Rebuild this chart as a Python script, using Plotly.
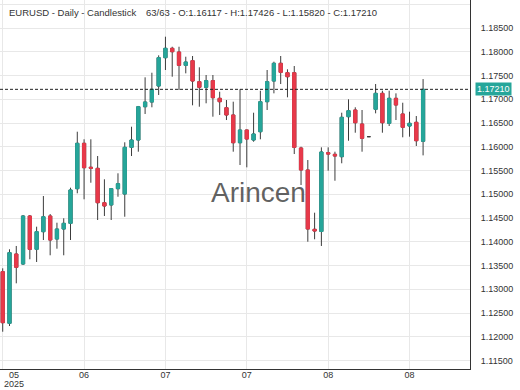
import plotly.graph_objects as go

symbol = "EURUSD"
period = "Daily"
chart_type = "Candlestick"

opens = [1.13371, 1.12284, 1.13743, 1.13533, 1.14543, 1.13842, 1.14213, 1.14543, 1.14059, 1.14269,
         1.14389, 1.15118, 1.16074, 1.15570, 1.15547, 1.14823, 1.14775, 1.15118, 1.15006, 1.15989,
         1.16143, 1.16844, 1.16943, 1.17280, 1.17876, 1.18074, 1.17996, 1.17716, 1.17813, 1.17371,
         1.17253, 1.17392, 1.17021, 1.16823, 1.16670, 1.16086, 1.16354, 1.16143, 1.16318, 1.16950,
         1.17385, 1.17758, 1.17560, 1.17560, 1.15975, 1.15512, 1.14263, 1.14217, 1.15876, 1.15842,
         1.15792, 1.16634, 1.16775, 1.16480, 1.16213, 1.16790, 1.17126, 1.16495, 1.17021, 1.16691,
         1.16438, 1.16516, 1.16117]
highs = [1.13442, 1.13842, 1.13912, 1.14564, 1.14564, 1.14318, 1.14964, 1.14585, 1.14402, 1.14495,
         1.15139, 1.16318, 1.16158, 1.16158, 1.15806, 1.15316, 1.15130, 1.15442, 1.16095, 1.16423,
         1.16860, 1.17463, 1.17560, 1.17926, 1.18318, 1.18107, 1.18107, 1.17897, 1.17912, 1.17674,
         1.17512, 1.17512, 1.17160, 1.16985, 1.16950, 1.17211, 1.16360, 1.16718, 1.17181, 1.17617,
         1.17792, 1.17912, 1.17632, 1.17701, 1.16002, 1.15722, 1.14613, 1.15989, 1.15989, 1.15897,
         1.16718, 1.17000, 1.16832, 1.16775, 1.16213, 1.17322, 1.17181, 1.17181, 1.17126, 1.16928,
         1.16739, 1.16648, 1.17426]
lows = [1.12107, 1.12227, 1.13126, 1.13512, 1.13632, 1.13575, 1.14038, 1.13716, 1.13855, 1.13716,
        1.14038, 1.15021, 1.14895, 1.15244, 1.14459, 1.14543, 1.14459, 1.14949, 1.14528, 1.15806,
        1.15897, 1.16691, 1.16832, 1.17091, 1.17617, 1.17476, 1.17196, 1.17547, 1.16874, 1.16844,
        1.16916, 1.16634, 1.16670, 1.16564, 1.15897, 1.15617, 1.15568, 1.16107, 1.16158, 1.16775,
        1.17126, 1.17322, 1.17042, 1.15848, 1.15196, 1.14002, 1.14053, 1.13912, 1.15497, 1.15286,
        1.15653, 1.16128, 1.16297, 1.15897, 1.16213, 1.16705, 1.16297, 1.16438, 1.16564, 1.16200,
        1.16213, 1.16017, 1.15820]
closes = [1.12297, 1.13771, 1.13463, 1.14543, 1.13842, 1.14213, 1.14528, 1.14038, 1.14269, 1.14389,
          1.15091, 1.16074, 1.15560, 1.15550, 1.14823, 1.14754, 1.15118, 1.15223, 1.15989, 1.16143,
          1.16844, 1.16943, 1.17211, 1.17876, 1.18074, 1.18002, 1.17716, 1.17785, 1.17385, 1.17253,
          1.17392, 1.17034, 1.16950, 1.16670, 1.16086, 1.16354, 1.16164, 1.16270, 1.16950, 1.17371,
          1.17758, 1.17568, 1.17476, 1.15989, 1.15512, 1.14269, 1.14227, 1.15891, 1.15848, 1.15806,
          1.16621, 1.16760, 1.16507, 1.16179, 1.16213, 1.17126, 1.16507, 1.17021, 1.16880, 1.16411,
          1.16495, 1.16128, 1.17210]

tick_idx = [0, 12, 24, 36, 48, 60]
tick_labels = ["05<br>2025", "06", "07", "07", "08", "08"]
watermark = "Arincen"

GREEN = "#26a69a"
RED = "#e8394a"
WICK = "#3c3c3c"
FONT = "Liberation Sans, Arial, sans-serif"

n = len(closes)
xs = list(range(n))

# body-only arrays (derived): flat bars keep only their dark line
b_open, b_high, b_low, b_close = [], [], [], []
for o, h, l, c in zip(opens, highs, lows, closes):
    if o == c == h == l:
        b_open.append(None); b_high.append(None); b_low.append(None); b_close.append(None)
    else:
        b_open.append(o); b_close.append(c)
        b_high.append(max(o, c)); b_low.append(min(o, c))

fig = go.Figure()
fig.add_trace(go.Candlestick(
    x=xs, open=opens, high=highs, low=lows, close=closes,
    increasing=dict(line=dict(color=WICK, width=1), fillcolor=WICK),
    decreasing=dict(line=dict(color=WICK, width=1), fillcolor=WICK),
    hoverinfo="skip", showlegend=False))
fig.add_trace(go.Candlestick(
    x=xs, open=b_open, high=b_high, low=b_low, close=b_close,
    increasing=dict(line=dict(color=GREEN, width=1), fillcolor=GREEN),
    decreasing=dict(line=dict(color=RED, width=1), fillcolor=RED),
    showlegend=False))

last_o, last_h, last_l, last_c = opens[-1], highs[-1], lows[-1], closes[-1]

fig.add_shape(type="line", xref="paper", x0=0, x1=1, yref="y", y0=last_c, y1=last_c,
              line=dict(color="#222222", width=1, dash="3px,2px"))

first_lines = tick_labels[0].split("<br>")

annotations = [
    dict(xref="paper", yref="paper", x=0.015, y=0.966, xanchor="left", yanchor="middle",
         text=f"{symbol} - {period} - {chart_type}", showarrow=False,
         font=dict(family=FONT, size=9.5, color="#333333")),
    dict(xref="paper", yref="paper", x=0.307, y=0.966, xanchor="left", yanchor="middle",
         text=f"{n}/{n} - O:{last_o:.5f} - H:{last_h:.5f} - L:{last_l:.5f} - C:{last_c:.5f}",
         showarrow=False, font=dict(family=FONT, size=9.5, color="#333333")),
    dict(xref="paper", yref="paper", x=0.551, y=0.477, xanchor="center", yanchor="middle",
         text=watermark, showarrow=False,
         font=dict(family=FONT, size=28, color="rgba(70,70,70,0.85)")),
    dict(xref="paper", yref="y", x=1, y=last_c, xanchor="left", yanchor="middle", xshift=5,
         text=f"{last_c:.5f}", showarrow=False, bgcolor=GREEN, borderpad=1,
         font=dict(family=FONT, size=9, color="white")),
]
for k, line in enumerate(first_lines):
    annotations.append(dict(xref="paper", yref="paper", x=14 / 470, y=0,
                            xanchor="center", yanchor="middle", yshift=-6 - 8.5 * k,
                            text=line, showarrow=False,
                            font=dict(family=FONT, size=9, color="#333333")))

fig.update_layout(
    width=520, height=390,
    margin=dict(l=0, r=50, t=0, b=21, autoexpand=False),
    paper_bgcolor="white", plot_bgcolor="white",
    font=dict(family=FONT, size=9, color="#333333"),
    annotations=annotations,
    boxgap=0.32,
    xaxis=dict(range=[-0.4, 68.92], rangeslider=dict(visible=False), automargin=False,
               tickvals=tick_idx, ticktext=[""] + tick_labels[1:],
               showgrid=True, gridcolor="#e8e8e8", gridwidth=1,
               showline=True, linecolor="#333333", linewidth=1, ticks="",
               ticklabelstandoff=-3,
               zeroline=False, tickfont=dict(size=9, color="#333333")),
    yaxis=dict(side="right", range=[1.11322, 1.19091], dtick=0.005, tick0=1.115,
               tickformat=".5f", showgrid=True, gridcolor="#e8e8e8", gridwidth=1,
               showline=True, linecolor="#333333", linewidth=1, ticks="",
               ticklabelstandoff=8, zeroline=False, automargin=False,
               tickfont=dict(size=9, color="#333333")),
)

fig.write_html("out.html", config={"displayModeBar": False},
               post_script="document.body.style.margin='0';document.body.style.overflow='hidden';")
